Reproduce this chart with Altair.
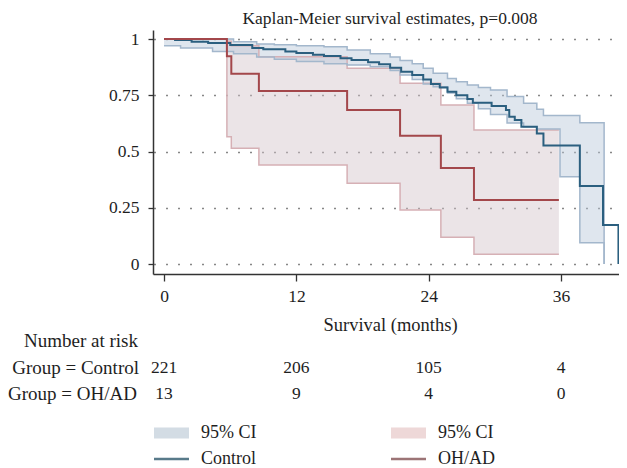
import altair as alt
import pandas as pd

FONT = "Liberation Serif"
TXT = "#1e1e1e"

# ---- data ----
ctrl_t = [0, 1, 2.5, 4, 6, 8, 9, 11, 12, 13.5, 14.5, 16, 17, 18.5, 19.5, 20.5, 21.5,
          22.5, 23.5, 24.2, 25, 25.7, 26.5, 27.5, 28, 29.7, 31, 31.3, 31.8, 32.4, 33.8,
          34.4, 37.7, 39.8, 41.2]
ctrl_s = [1.0, 0.996, 0.988, 0.982, 0.973, 0.96, 0.954, 0.945, 0.938, 0.93, 0.924, 0.915,
          0.907, 0.897, 0.888, 0.872, 0.855, 0.84, 0.82, 0.80, 0.785, 0.766, 0.75, 0.733,
          0.717, 0.702, 0.684, 0.655, 0.64, 0.61, 0.58, 0.527, 0.347, 0.173, 0.0]

ctrl_ci_t = [0, 1.5, 4.4, 6.3, 8.4, 10, 12, 14.5, 16.6, 18.7, 20.5, 21.4, 22.5, 23.5,
             24.4, 25.7, 26.5, 27.5, 28.5, 29.6, 31.1, 32.6, 33.8, 34.4, 35.9, 37.7, 39.9]
ctrl_ci_lo = [0.97, 0.96, 0.944, 0.935, 0.92, 0.91, 0.90, 0.89, 0.885, 0.877, 0.86, 0.84,
              0.82, 0.80, 0.788, 0.76, 0.735, 0.715, 0.69, 0.665, 0.627, 0.61, 0.60, 0.60,
              0.388, 0.095, 0.0]
ctrl_ci_hi = [1.0, 1.0, 1.0, 0.988, 0.978, 0.975, 0.97, 0.966, 0.951, 0.935, 0.92, 0.905,
              0.89, 0.87, 0.848, 0.825, 0.81, 0.796, 0.785, 0.773, 0.744, 0.714, 0.688,
              0.66, 0.66, 0.628, 0.0]

oh_t = [0, 5.7, 6.1, 8.6, 16.6, 21.4, 25.1, 28.1, 35.8]
oh_s = [1.0, 0.923, 0.846, 0.769, 0.684, 0.570, 0.427, 0.285, 0.285]
oh_ci_lo = [1.0, 0.566, 0.515, 0.44, 0.359, 0.24, 0.119, 0.043, 0.043]
oh_ci_hi = [1.0, 0.99, 0.97, 0.921, 0.87, 0.803, 0.707, 0.596, 0.596]

risk_t = [0, 12, 24, 36]
risk_ctrl = [221, 206, 105, 4]
risk_oh = [13, 9, 4, 0]

x_ticks = [0, 12, 24, 36]
y_ticks = [0, 0.25, 0.5, 0.75, 1]

# ---- tables ----
ctrl_df = pd.DataFrame({"t": ctrl_t, "s": ctrl_s})
ctrl_ci = pd.DataFrame({"t": ctrl_ci_t, "lo": ctrl_ci_lo, "hi": ctrl_ci_hi})
oh_df = pd.DataFrame({"t": oh_t, "s": oh_s})
oh_ci = pd.DataFrame({"t": oh_t, "lo": oh_ci_lo, "hi": oh_ci_hi})
risk_c = pd.DataFrame({"t": risk_t, "n": risk_ctrl})
risk_o = pd.DataFrame({"t": risk_t, "n": risk_oh})
one = pd.DataFrame({"a": [1]})

xscale = alt.Scale(domain=[-1, 41.25], nice=False, zero=False)
yscale = alt.Scale(domain=[-0.0444, 1.04], nice=False, zero=False)

X = alt.X("t:Q", scale=xscale, axis=alt.Axis(
    values=x_ticks, format="d", grid=False, tickSize=7, tickWidth=1.3, tickColor="#333",
    domainColor="#333", domainWidth=1.5, labelFont=FONT, labelFontSize=17.5,
    labelColor=TXT, labelPadding=6, title="Survival (months)", titleFont=FONT,
    titleFontSize=18.5, titleFontWeight="normal", titleColor=TXT, titleX=237, titleY=50,
    titleBaseline="middle", titleAlign="center"))


def Y(field):
    return alt.Y(field, scale=yscale, axis=alt.Axis(
        values=y_ticks, labelExpr="format(datum.value, '.2~f')", tickSize=5,
        tickWidth=1.3, tickColor="#333", domainColor="#333", domainWidth=1.5,
        labelFont=FONT, labelFontSize=17.5, labelColor=TXT, labelPadding=9, title=None,
        grid=True, gridDash=[1, 11], gridDashOffset=11, gridColor="#111", gridWidth=1.3))


C_BAND, C_EDGE, C_LINE = "#b9c8da", "#a3b7cc", "#2b5f7f"
O_BAND, O_EDGE, O_LINE = "#d3c3ca", "#d6b0b5", "#a3474b"

ctrl_band = alt.Chart(ctrl_ci).mark_area(interpolate="step-after", fill=C_BAND, fillOpacity=0.45).encode(
    x=X, y=Y("lo:Q"), y2="hi:Q")
oh_band = alt.Chart(oh_ci).mark_area(interpolate="step-after", fill=O_BAND, fillOpacity=0.45).encode(
    x=X, y=Y("lo:Q"), y2="hi:Q")

def edge(df, field, color):
    return alt.Chart(df).mark_line(interpolate="step-after", color=color, strokeWidth=1.5).encode(
        x=X, y=Y(field))

ctrl_line = alt.Chart(ctrl_df).mark_line(interpolate="step-after", color=C_LINE, strokeWidth=2).encode(
    x=X, y=Y("s:Q"))
oh_line = alt.Chart(oh_df).mark_line(interpolate="step-after", color=O_LINE, strokeWidth=2).encode(
    x=X, y=Y("s:Q"))


def label(text, px, py, align="left", baseline="middle", size=18):
    return alt.Chart(one).mark_text(font=FONT, fontSize=size, color=TXT, align=align,
                                    baseline=baseline).encode(
        x=alt.value(px), y=alt.value(py), text=alt.value(text))


title = label("Kaplan-Meier survival estimates, p=0.008", 237, -6.3, align="center",
              baseline="alphabetic", size=17.5)

risk_title = label("Number at risk", -15, 311, align="right", size=19)
row_c = label("Group = Control", -14, 338, align="right", size=19)
row_o = label("Group = OH/AD", -16, 364, align="right", size=19)

num_c = alt.Chart(risk_c).mark_text(font=FONT, fontSize=17.5, color=TXT, baseline="middle").encode(
    x=alt.X("t:Q", scale=xscale), y=alt.value(338), text="n:Q")
num_o = alt.Chart(risk_o).mark_text(font=FONT, fontSize=17.5, color=TXT, baseline="middle").encode(
    x=alt.X("t:Q", scale=xscale), y=alt.value(364), text="n:Q")

# legend
def swatch(px, py, color):
    return alt.Chart(one).mark_rect(color=color).encode(
        x=alt.value(px), x2=alt.value(px + 35), y=alt.value(py - 5.5), y2=alt.value(py + 5.5))

def lswatch(px, py, color):
    return alt.Chart(one).mark_rule(color=color, strokeWidth=2.5).encode(
        x=alt.value(px), x2=alt.value(px + 35), y=alt.value(py))

LY1, LY2 = 403, 429
legend = [
    swatch(1, LY1, "#d3dce4"), label("95% CI", 48, LY1),
    lswatch(1, LY2, "#587a8a"), label("Control", 48, LY2),
    swatch(238, LY1, "#eed8d8"), label("95% CI", 285, LY1),
    lswatch(238, LY2, "#9c7476"), label("OH/AD", 285, LY2),
]

chart = alt.layer(
    oh_band, ctrl_band,
    edge(oh_ci, "lo:Q", O_EDGE), edge(oh_ci, "hi:Q", O_EDGE),
    edge(ctrl_ci, "lo:Q", C_EDGE), edge(ctrl_ci, "hi:Q", C_EDGE),
    ctrl_line, oh_line,
    title, risk_title, row_c, row_o, num_c, num_o,
    *legend
).properties(
    width=466, height=244,
    autosize=alt.AutoSizeParams(type="none"),
    padding={"left": 145, "top": 22, "right": 0, "bottom": 194},
).configure_view(stroke=None)

chart.save("out.html", embed_options={"renderer": "svg", "actions": False})
